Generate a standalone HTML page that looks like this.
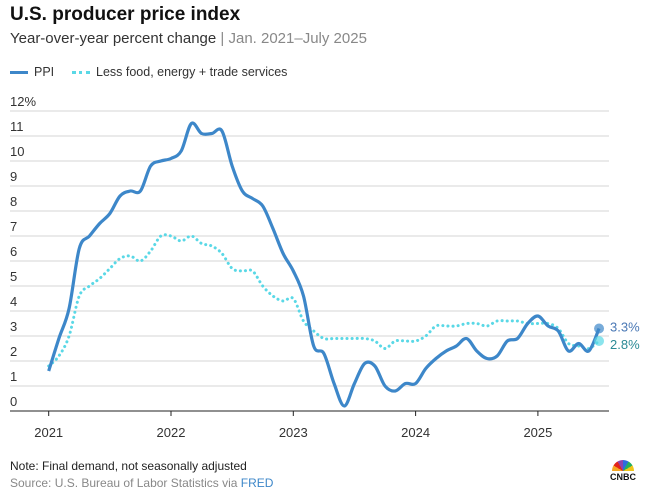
<!DOCTYPE html>
<html><head><meta charset="utf-8"><style>
body{margin:0;background:#fff;font-family:"Liberation Sans",sans-serif;}
#wrap{position:relative;width:646px;height:494px;overflow:hidden}
.t{position:absolute;white-space:nowrap}
</style></head><body>
<div id="wrap">
<div class="t" style="left:10px;top:4px;font-size:19px;font-weight:bold;color:#111">U.S. producer price index</div>
<div class="t" style="left:10px;top:30px;font-size:15px;color:#333">Year-over-year percent change <span style="color:#888">| Jan. 2021–July 2025</span></div>
<div class="t" style="left:10px;top:65px;font-size:12.5px;color:#333"><span style="display:inline-block;width:18px;height:3px;background:#3d87c9;vertical-align:middle;margin-right:6px"></span>PPI</div>
<div class="t" style="left:72px;top:65px;font-size:12.5px;color:#333"><span style="display:inline-block;width:18px;border-top:3px dotted #5ad8e6;vertical-align:middle;margin-right:6px"></span>Less food, energy + trade services</div>
<svg id="chart" width="646" height="494" style="position:absolute;left:0;top:0"></svg>
<div class="t" style="left:10px;top:459px;font-size:12px;color:#222">Note: Final demand, not seasonally adjusted</div>
<div class="t" style="left:10px;top:476px;font-size:12px;color:#888">Source: U.S. Bureau of Labor Statistics via <span style="color:#3d87c9">FRED</span></div>
<div class="t" style="left:606px;top:460px;width:34px;text-align:center;font-size:9px;font-weight:bold;color:#111"><div style="width:22px;height:11px;margin:0 auto 1px;border-radius:11px 11px 0 0;background:conic-gradient(from -90deg at 50% 100%,#f5a623 0 30deg,#e2231a 30deg 60deg,#8e44ad 60deg 90deg,#2d6cdf 90deg 120deg,#27ae60 120deg 150deg,#f0c419 150deg 180deg,transparent 180deg)"></div>CNBC</div>
</div>
<script>
const years=["2021","2022","2023","2024","2025"];
const yTicks=[0,1,2,3,4,5,6,7,8,9,10,11,12];
const ppi=[1.6,2.9,4.1,6.5,7.0,7.5,7.9,8.6,8.8,8.8,9.8,10.0,
10.1,10.4,11.5,11.1,11.1,11.2,9.8,8.8,8.5,8.2,7.3,6.3,
5.6,4.6,2.6,2.3,1.1,0.2,1.1,1.9,1.8,1.0,0.8,1.1,
1.1,1.7,2.1,2.4,2.6,2.9,2.4,2.1,2.2,2.8,2.9,3.5,
3.8,3.4,3.2,2.4,2.7,2.4,3.3];
const core=[1.8,2.2,3.0,4.6,5.0,5.3,5.7,6.1,6.2,6.0,6.4,7.0,
7.0,6.8,7.0,6.7,6.6,6.3,5.7,5.6,5.6,5.0,4.6,4.4,
4.5,3.6,3.2,2.9,2.9,2.9,2.9,2.9,2.8,2.5,2.8,2.8,
2.8,3.0,3.4,3.4,3.4,3.5,3.5,3.4,3.6,3.6,3.6,3.5,
3.5,3.5,3.3,2.7,2.6,2.5,2.8];
const svg=document.getElementById('chart');const NS='http://www.w3.org/2000/svg';
const X=m=>48.7+m*122.3/12, Y=v=>411-25*v;
function mk(t,a,p){const e=document.createElementNS(NS,t);for(const k in a)e.setAttribute(k,a[k]);(p||svg).appendChild(e);return e;}
yTicks.forEach(v=>{
 if(v>0){const l=mk('line',{x1:10,x2:609,y1:Y(v),y2:Y(v),stroke:'#d6d6d6','stroke-width':1});
 
 }
 const t=mk('text',{x:10,y:Y(v)-5,'font-size':13,fill:'#333','font-family':'Liberation Sans'});t.textContent=v+(v===12?'%':'');
 
 
});
const ax=mk('line',{x1:10,x2:609,y1:411,y2:411,stroke:'#222','stroke-width':1});


years.forEach((yr,i)=>{const x=X(i*12);
 const tk=mk('line',{x1:x,x2:x,y1:411,y2:416,stroke:'#222'});
 
 
 const t=mk('text',{x:x,y:437,'font-size':13,fill:'#333','text-anchor':'middle','font-family':'Liberation Sans'});t.textContent=yr;
 
 
});
function path(d){const p=d.map((v,i)=>[X(i),Y(v)]);let s='M'+p[0];
 for(let i=0;i<p.length-1;i++){const p0=p[i-1]||p[i],p1=p[i],p2=p[i+1],p3=p[i+2]||p2;
 s+='C'+(p1[0]+(p2[0]-p0[0])/6)+','+(p1[1]+(p2[1]-p0[1])/6)+' '+(p2[0]-(p3[0]-p1[0])/6)+','+(p2[1]-(p3[1]-p1[1])/6)+' '+p2;}return s;}
const c=mk('path',{d:path(core),fill:'none',stroke:'#5ad8e6','stroke-width':3,'stroke-dasharray':'0.1 5','stroke-linecap':'round'});


const p=mk('path',{d:path(ppi),fill:'none',stroke:'#3d87c9','stroke-width':3.2,'stroke-linejoin':'round'});


const n=ppi.length-1;
const d1=mk('circle',{cx:X(n),cy:Y(core[n]),r:5,fill:'#5ad8e6','fill-opacity':0.7});


const d2=mk('circle',{cx:X(n),cy:Y(ppi[n]),r:5,fill:'#3d87c9','fill-opacity':0.7});


const l1=mk('text',{x:610,y:Y(ppi[n])+3,'font-size':13,fill:'#4a78b5','font-family':'Liberation Sans'});l1.textContent=ppi[n]+'%';


const l2=mk('text',{x:610,y:Y(core[n])+8,'font-size':13,fill:'#2a8a95','font-family':'Liberation Sans'});l2.textContent=core[n]+'%';


</script>
</body></html>
